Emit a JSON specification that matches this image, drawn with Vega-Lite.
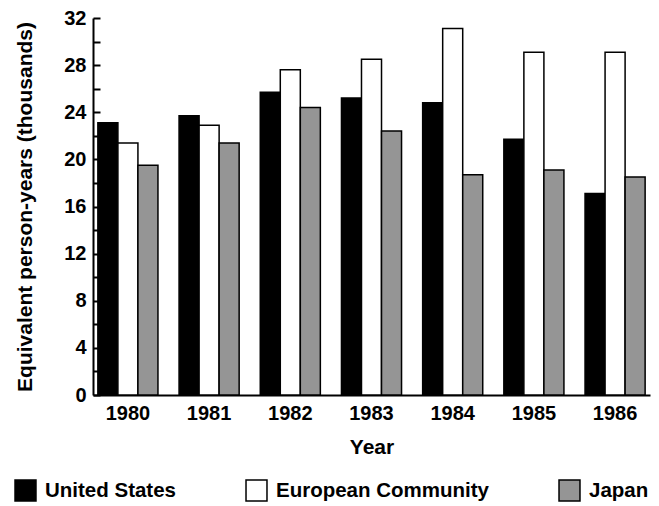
{
  "$schema": "https://vega.github.io/schema/vega-lite/v6.json",
  "width": 557,
  "height": 377,
  "autosize": {"type": "none"},
  "padding": {"left": 93, "top": 18, "right": 9, "bottom": 111},
  "background": "white",
  "data": {
    "values": [
      {"year": "1980", "region": "United States", "value": 23.1},
      {"year": "1980", "region": "European Community", "value": 21.4},
      {"year": "1980", "region": "Japan", "value": 19.5},
      {"year": "1981", "region": "United States", "value": 23.7},
      {"year": "1981", "region": "European Community", "value": 22.9},
      {"year": "1981", "region": "Japan", "value": 21.4},
      {"year": "1982", "region": "United States", "value": 25.7},
      {"year": "1982", "region": "European Community", "value": 27.6},
      {"year": "1982", "region": "Japan", "value": 24.4},
      {"year": "1983", "region": "United States", "value": 25.2},
      {"year": "1983", "region": "European Community", "value": 28.5},
      {"year": "1983", "region": "Japan", "value": 22.4},
      {"year": "1984", "region": "United States", "value": 24.8},
      {"year": "1984", "region": "European Community", "value": 31.1},
      {"year": "1984", "region": "Japan", "value": 18.7},
      {"year": "1985", "region": "United States", "value": 21.7},
      {"year": "1985", "region": "European Community", "value": 29.1},
      {"year": "1985", "region": "Japan", "value": 19.1},
      {"year": "1986", "region": "United States", "value": 17.1},
      {"year": "1986", "region": "European Community", "value": 29.1},
      {"year": "1986", "region": "Japan", "value": 18.5}
    ]
  },
  "mark": {"type": "bar", "stroke": "black", "strokeWidth": 1.5},
  "encoding": {
    "x": {
      "field": "year",
      "type": "nominal",
      "title": "Year",
      "scale": {"paddingInner": 0.26, "paddingOuter": 0.06},
      "axis": {"labelAngle": 0, "ticks": false, "labelPadding": 8, "titlePadding": 13, "labelFontSize": 20}
    },
    "xOffset": {
      "field": "region",
      "type": "nominal",
      "sort": ["United States", "European Community", "Japan"],
      "scale": {"paddingInner": 0, "paddingOuter": 0}
    },
    "y": {
      "field": "value",
      "type": "quantitative",
      "title": "Equivalent person-years (thousands)",
      "scale": {"domain": [0, 32], "nice": false},
      "axis": {
        "values": [0, 2, 4, 6, 8, 10, 12, 14, 16, 18, 20, 22, 24, 26, 28, 30, 32],
        "labelExpr": "datum.value % 4 == 0 ? datum.label : ''",
        "tickSize": -7,
        "tickWidth": 2,
        "labelPadding": 14,
        "titlePadding": 28,
        "labelFontSize": 20,
        "grid": false
      }
    },
    "color": {
      "field": "region",
      "type": "nominal",
      "sort": ["United States", "European Community", "Japan"],
      "scale": {
        "domain": ["United States", "European Community", "Japan"],
        "range": ["#000000", "#ffffff", "#959595"]
      },
      "legend": {
        "title": null,
        "orient": "none",
        "legendX": -79,
        "legendY": 461,
        "direction": "horizontal",
        "columns": 3,
        "columnPadding": 67,
        "symbolType": "square",
        "symbolSize": 440,
        "symbolStrokeColor": "black",
        "symbolStrokeWidth": 1.5,
        "symbolOpacity": 1,
        "labelOffset": 8,
        "labelFontSize": 20.5,
        "labelFont": "Liberation Sans",
        "labelFontWeight": "bold",
        "labelColor": "black",
        "labelLimit": 400
      }
    }
  },
  "config": {
    "view": {"stroke": null},
    "bar": {"opacity": 1},
    "axis": {
      "labelFont": "Liberation Sans",
      "labelFontWeight": "bold",
      "labelColor": "black",
      "titleFont": "Liberation Sans",
      "titleFontSize": 21,
      "titleFontWeight": "bold",
      "titleColor": "black",
      "domainColor": "black",
      "domainWidth": 2,
      "tickColor": "black"
    }
  }
}
